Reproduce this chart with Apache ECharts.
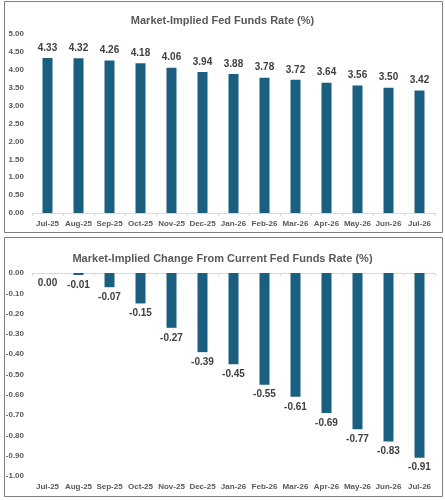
<!DOCTYPE html>
<html>
<head>
<meta charset="utf-8">
<script src="https://cdn.jsdelivr.net/npm/echarts@6/dist/echarts.min.js"></script>
<style>
  html, body { margin: 0; padding: 0; background: #fff; }
  #main { width: 445px; height: 500px; }
</style>
</head>
<body>
<div id="main"></div>
<script>
// chart data
const months = ['Jul-25', 'Aug-25', 'Sep-25', 'Oct-25', 'Nov-25', 'Dec-25', 'Jan-26',
  'Feb-26', 'Mar-26', 'Apr-26', 'May-26', 'Jun-26', 'Jul-26']
const rateValues = [4.33, 4.32, 4.26, 4.18, 4.06, 3.94, 3.88, 3.78, 3.72, 3.64, 3.56, 3.50, 3.42]
const changeValues = [0.00, -0.01, -0.07, -0.15, -0.27, -0.39, -0.45, -0.55, -0.61, -0.69, -0.77, -0.83, -0.91]
const topTitle = 'Market-Implied Fed Funds Rate (%)'
const bottomTitle = 'Market-Implied Change From Current Fed Funds Rate (%)'

const barColor = '#1b5f80'
const axisGray = '#d9d9d9'
const tickFont = { color: '#595959', fontSize: 8, fontWeight: 'bold', fontFamily: 'Liberation Sans' }
const labelFont = { color: '#404040', fontSize: 10, fontWeight: 'bold', fontFamily: 'Liberation Sans' }
const titleFont = { color: '#595959', fontSize: 11, fontWeight: 'bold', fontFamily: 'Liberation Sans' }

const myChart = echarts.init(document.getElementById('main'))

let option = {
  backgroundColor: '#fff',
  animation: false,
  graphic: [
    { type: 'rect', shape: { x: 4.5, y: 1.5, width: 438, height: 231 },
      style: { fill: 'none', stroke: '#7f7f7f', lineWidth: 1 } },
    { type: 'rect', shape: { x: 4.5, y: 237.5, width: 438, height: 259 },
      style: { fill: 'none', stroke: '#7f7f7f', lineWidth: 1 } },
  ],
  title: [
    { text: topTitle, left: 'center', top: 10, textStyle: titleFont },
    { text: bottomTitle, left: 'center', top: 248, textStyle: titleFont },
  ],
  grid: [
    { left: 32, right: 10, top: 34, height: 179 },
    { left: 32, right: 10, top: 273, height: 203 },
  ],
  xAxis: [
    {
      gridIndex: 0, type: 'category', data: months,
      axisLine: { lineStyle: { color: axisGray } },
      axisTick: { show: true, length: 3, lineStyle: { color: axisGray } },
      axisLabel: Object.assign({ margin: 7, interval: 0 }, tickFont),
    },
    {
      // labels sit at the bottom of the lower chart
      gridIndex: 1, type: 'category', data: months, position: 'bottom',
      axisLine: { show: false, onZero: false },
      axisTick: { show: false },
      axisLabel: Object.assign({ margin: 7, interval: 0 }, tickFont),
    },
    {
      // zero line at the top of the lower chart
      gridIndex: 1, type: 'category', data: months, position: 'top',
      axisLine: { onZero: false, lineStyle: { color: axisGray } },
      axisTick: { show: true, inside: true, length: 3, lineStyle: { color: axisGray } },
      axisLabel: { show: false },
    },
  ],
  yAxis: [
    {
      gridIndex: 0, type: 'value', min: 0, max: 5, interval: 0.5,
      splitLine: { show: false },
      axisLine: { show: false },
      axisLabel: Object.assign({ margin: 8, formatter: v => v.toFixed(2) }, tickFont),
    },
    {
      gridIndex: 1, type: 'value', min: -1, max: 0, interval: 0.1,
      splitLine: { show: false },
      axisLine: { show: false },
      axisLabel: Object.assign({ margin: 8, formatter: v => v.toFixed(2) }, tickFont),
    },
  ],
  series: [
    {
      type: 'bar', xAxisIndex: 0, yAxisIndex: 0,
      data: rateValues, barWidth: 10,
      itemStyle: { color: barColor },
      label: Object.assign({ show: true, position: 'top', distance: 5, formatter: p => p.value.toFixed(2) }, labelFont),
    },
    {
      type: 'bar', xAxisIndex: 1, yAxisIndex: 1,
      data: changeValues, barWidth: 10,
      itemStyle: { color: barColor },
      label: Object.assign({ show: true, position: 'bottom', distance: 5, formatter: p => p.value.toFixed(2) }, labelFont),
    },
  ],
}
myChart.setOption(option)
</script>
</body>
</html>
